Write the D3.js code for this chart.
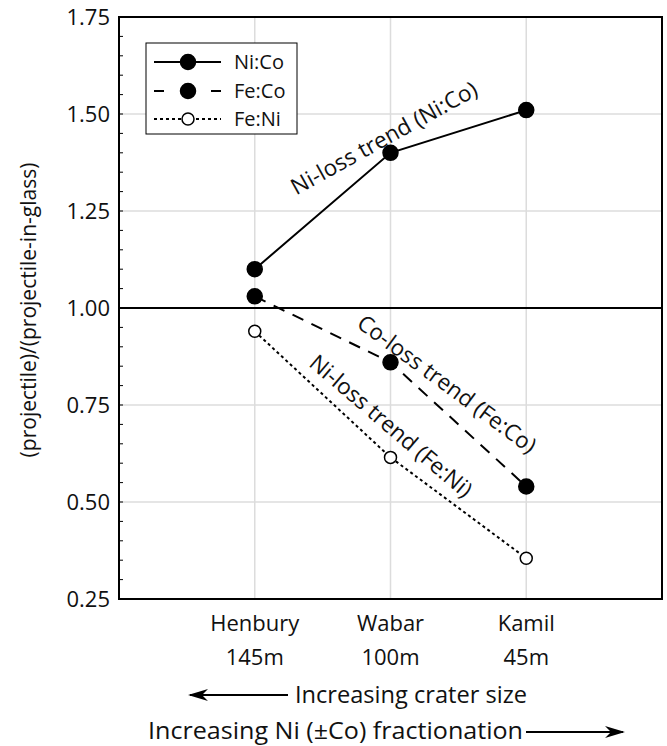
<!DOCTYPE html>
<html>
<head>
<meta charset="utf-8">
<script src="https://cdn.jsdelivr.net/npm/d3@7"></script>
<style>
  body { margin: 0; background: #fff; }
  text { font-family: "Open Sans", "Noto Sans", sans-serif; fill: #111; }
</style>
</head>
<body>
<script>
// crater categories and sizes
var craters = ["Henbury", "Wabar", "Kamil"];
var craterSizes = ["145m", "100m", "45m"];

// ratio series (projectile / projectile-in-glass)
var niCo = [1.10, 1.40, 1.51];
var feCo = [1.03, 0.86, 0.54];
var feNi = [0.94, 0.615, 0.355];

var seriesNames = ["Ni:Co", "Fe:Co", "Fe:Ni"];
var yTicks = [0.25, 0.50, 0.75, 1.00, 1.25, 1.50, 1.75];

var trendLabels = ["Ni-loss trend (Ni:Co)", "Co-loss trend (Fe:Co)", "Ni-loss trend (Fe:Ni)"];
var bottomNotes = ["Increasing crater size", "Increasing Ni (\u00B1Co) fractionation"];

(function(){

var width = 667, height = 746;
var pl = 119, pr = 662, pt = 17, pb = 599;

var svg = d3.select("body").append("svg")
    .attr("width", width)
    .attr("height", height);

var x = d3.scalePoint()
    .domain(craters)
    .range([pl, pr])
    .padding(1);

var y = d3.scaleLinear()
    .domain([0.25, 1.75])
    .range([pb, pt]);

// grid
svg.selectAll(".hgrid")
    .data(yTicks.filter(function(d){ return d != 1.00 && d != 0.25 && d != 1.75; }))
    .enter().append("line")
    .attr("x1", pl).attr("x2", pr)
    .attr("y1", function(d){ return y(d); })
    .attr("y2", function(d){ return y(d); })
    .attr("stroke", "#dcdcdc")
    .attr("stroke-width", 1.5);

svg.selectAll(".vgrid")
    .data(craters)
    .enter().append("line")
    .attr("x1", function(d){ return x(d); })
    .attr("x2", function(d){ return x(d); })
    .attr("y1", pt).attr("y2", pb)
    .attr("stroke", "#dcdcdc")
    .attr("stroke-width", 1.5);

// reference line at 1.00
svg.append("line")
    .attr("x1", pl).attr("x2", pr)
    .attr("y1", y(1)).attr("y2", y(1))
    .attr("stroke", "#000")
    .attr("stroke-width", 2);

// minor ticks inside the left axis
var minor = d3.range(0.30, 1.74, 0.05);
svg.selectAll(".minor")
    .data(minor)
    .enter().append("line")
    .attr("x1", pl).attr("x2", pl + 4)
    .attr("y1", function(d){ return y(d); })
    .attr("y2", function(d){ return y(d); })
    .attr("stroke", "#000")
    .attr("stroke-width", 1);

// frame
svg.append("rect")
    .attr("x", pl).attr("y", pt)
    .attr("width", pr - pl).attr("height", pb - pt)
    .attr("fill", "none")
    .attr("stroke", "#000")
    .attr("stroke-width", 2);

// y tick labels
svg.selectAll(".ylab")
    .data(yTicks)
    .enter().append("text")
    .attr("x", pl - 9)
    .attr("y", function(d){ return y(d); })
    .attr("dy", "0.36em")
    .attr("text-anchor", "end")
    .style("font-size", "22px")
    .text(function(d){ return d3.format(".2f")(d); });

// y title
svg.append("text")
    .attr("transform", "translate(36," + 310 + ") rotate(-90)")
    .attr("text-anchor", "middle")
    .style("font-size", "21px")
    .text("(projectile)/(projectile-in-glass)");

// x category labels
svg.selectAll(".xlab")
    .data(craters)
    .enter().append("text")
    .attr("x", function(d){ return x(d); })
    .attr("y", 631)
    .attr("text-anchor", "middle")
    .style("font-size", "22px")
    .text(function(d){ return d; });

svg.selectAll(".xsize")
    .data(craterSizes)
    .enter().append("text")
    .attr("x", function(d, i){ return x(craters[i]); })
    .attr("y", 665)
    .attr("text-anchor", "middle")
    .style("font-size", "22px")
    .text(function(d){ return d; });

// series lines and markers
var series = [
    {name: seriesNames[0], values: niCo, dash: null, fill: "#000", r: 7.5},
    {name: seriesNames[1], values: feCo, dash: "12,9", fill: "#000", r: 7.5},
    {name: seriesNames[2], values: feNi, dash: "3,3", fill: "#fff", r: 6}
];

var line = d3.line()
    .x(function(d, i){ return x(craters[i]); })
    .y(function(d){ return y(d); });

series.forEach(function(s){
    svg.append("path")
        .datum(s.values)
        .attr("d", line)
        .attr("fill", "none")
        .attr("stroke", "#000")
        .attr("stroke-width", 2)
        .attr("stroke-dasharray", s.dash);
    svg.selectAll(null)
        .data(s.values)
        .enter().append("circle")
        .attr("cx", function(d, i){ return x(craters[i]); })
        .attr("cy", function(d){ return y(d); })
        .attr("r", s.r)
        .attr("fill", s.fill)
        .attr("stroke", "#000")
        .attr("stroke-width", 1.5);
});

// trend annotations (rotated)
var trendPos = [
    {x: 384, y: 138, a: -29},
    {x: 447, y: 384, a: 36.5},
    {x: 391, y: 426, a: 40.5}
];
svg.selectAll(".trend")
    .data(trendLabels)
    .enter().append("text")
    .attr("transform", function(d, i){
        var p = trendPos[i];
        return "translate(" + p.x + "," + p.y + ") rotate(" + p.a + ")";
    })
    .attr("text-anchor", "middle")
    .attr("dy", "0.35em")
    .style("font-size", "22.5px")
    .text(function(d){ return d; });

// legend
var lg = svg.append("g");
lg.append("rect")
    .attr("x", 146).attr("y", 43)
    .attr("width", 151).attr("height", 91)
    .attr("fill", "#fff")
    .attr("stroke", "#000")
    .attr("stroke-width", 1);

var legendY = [62, 91, 119];
series.forEach(function(s, i){
    var ly = legendY[i];
    if (i == 1) {
        lg.append("line").attr("x1", 154).attr("x2", 164).attr("y1", ly).attr("y2", ly)
            .attr("stroke", "#000").attr("stroke-width", 2);
        lg.append("line").attr("x1", 211).attr("x2", 221).attr("y1", ly).attr("y2", ly)
            .attr("stroke", "#000").attr("stroke-width", 2);
    } else {
        lg.append("line").attr("x1", 154).attr("x2", 221).attr("y1", ly).attr("y2", ly)
            .attr("stroke", "#000").attr("stroke-width", 2)
            .attr("stroke-dasharray", s.dash);
    }
    lg.append("circle")
        .attr("cx", 188).attr("cy", ly)
        .attr("r", s.r)
        .attr("fill", s.fill)
        .attr("stroke", "#000")
        .attr("stroke-width", 1.5);
    lg.append("text")
        .attr("x", 234).attr("y", ly)
        .attr("dy", "0.36em")
        .style("font-size", "20px")
        .text(s.name);
});

// arrow head marker
var defs = svg.append("defs");
defs.append("marker")
    .attr("id", "head")
    .attr("viewBox", "0 0 20 12")
    .attr("refX", 18).attr("refY", 6)
    .attr("markerUnits", "userSpaceOnUse")
    .attr("markerWidth", 20).attr("markerHeight", 12)
    .attr("orient", "auto")
    .append("path")
    .attr("d", "M0,0 L20,6 L0,12 L6,6 Z")
    .attr("fill", "#000");

// bottom notes with arrows
svg.append("line")
    .attr("x1", 288).attr("x2", 190)
    .attr("y1", 695).attr("y2", 695)
    .attr("stroke", "#000").attr("stroke-width", 2)
    .attr("marker-end", "url(#head)");
svg.append("text")
    .attr("x", 295).attr("y", 703)
    .attr("textLength", 232)
    .attr("lengthAdjust", "spacingAndGlyphs")
    .style("font-size", "23px")
    .text(bottomNotes[0]);

svg.append("text")
    .attr("x", 148).attr("y", 739)
    .attr("textLength", 375)
    .attr("lengthAdjust", "spacingAndGlyphs")
    .style("font-size", "23px")
    .text(bottomNotes[1]);
svg.append("line")
    .attr("x1", 526).attr("x2", 623)
    .attr("y1", 732).attr("y2", 732)
    .attr("stroke", "#000").attr("stroke-width", 2)
    .attr("marker-end", "url(#head)");

})();
</script>
</body>
</html>
